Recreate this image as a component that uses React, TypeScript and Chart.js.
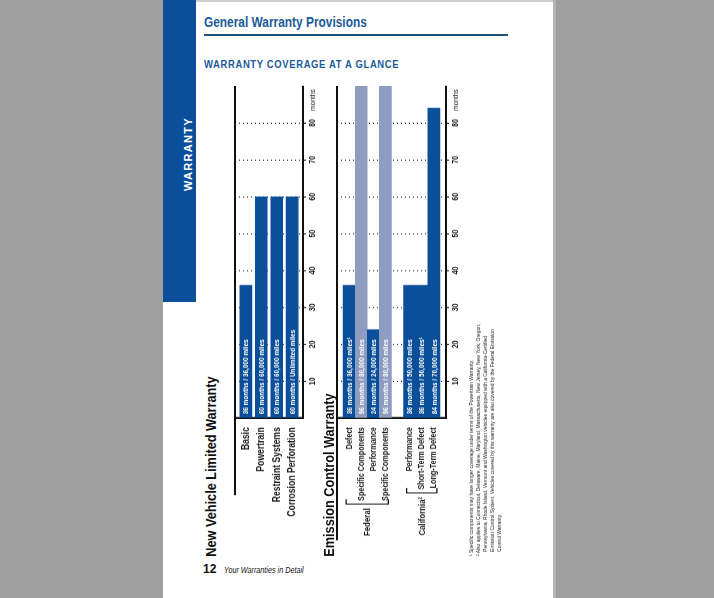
import React, { useEffect, useRef } from "react";
import { Chart, registerables } from "chart.js";

Chart.register(...registerables);

// Liberation Sans, compressed horizontally by the figure transform to imitate the condensed face
const SANS = "'Liberation Sans', Arial, sans-serif";
const SQUEEZE = 0.82;

const DARK_BLUE = "#0b4f9b";
const LIGHT_BLUE = "#8e9cc2";
const PAGE_BLUE = "#1c5a99";

const MAX_MONTHS = 90;
const MONTH_TICKS = [10, 20, 30, 40, 50, 60, 70, 80];

const nvCategories = ["Basic", "Powertrain", "Restraint Systems", "Corrosion Perforation"];
const nvMonths = [36, 60, 60, 60];
const nvTexts = [
  "36 months / 36,000 miles",
  "60 months / 60,000 miles",
  "60 months / 60,000 miles",
  "60 months / Unlimited miles",
];
const nvKinds = ["base", "base", "base", "base"];

const ecCategories = [
  "Defect",
  "Specific Components",
  "Performance",
  "Specific Components",
  "",
  "Performance",
  "Short-Term Defect",
  "Long-Term Defect",
];
const ecMonths = [36, 96, 24, 96, null, 36, 36, 84];
const ecTexts = [
  "36 months / 36,000 miles\u00B9",
  "96 months / 80,000 miles",
  "24 months / 24,000 miles",
  "96 months / 80,000 miles",
  "",
  "36 months / 50,000 miles",
  "36 months / 50,000 miles\u00B9",
  "84 months / 70,000 miles",
];
const ecKinds = ["base", "specific", "base", "specific", "", "base", "base", "base"];
const ecGroups = [
  { label: "Federal", from: 0, to: 3 },
  { label: "California\u00B2", from: 5, to: 7 },
];

const footnotes = [
  "\u00B9 Specific components may have longer coverage under terms of the Powertrain Warranty.",
  "\u00B2 Also applies to Connecticut, Delaware, Maine, Maryland, Massachusetts, New Jersey, New York, Oregon,",
  "Pennsylvania, Rhode Island, Vermont and Washington vehicles equipped with a California-Certified",
  "Emission Control System. Vehicles covered by this warranty are also covered by the Federal Emission",
  "Control Warranty.",
];

const LABEL_PAD = 11;

const decorPlugin = {
  id: "pageDecor",
  afterDatasetsDraw(chart: any, _args: any, opts: any) {
    const ctx = chart.ctx;
    const meta = chart.getDatasetMeta(0);
    ctx.save();
    ctx.font = `bold 7.8px ${SANS}`;
    ctx.fillStyle = "#ffffff";
    ctx.textAlign = "left";
    ctx.textBaseline = "middle";
    meta.data.forEach((el: any, i: number) => {
      const t = opts.texts[i];
      if (!t) return;
      const p = el.getProps(["y", "base"], true);
      ctx.fillText(t, p.base + 4, p.y + 0.5);
    });
    ctx.restore();
  },
  afterDraw(chart: any, _args: any, opts: any) {
    const ctx = chart.ctx;
    const ca = chart.chartArea;
    ctx.save();
    // open frame line on the far side of the plot, running on into the label area
    ctx.strokeStyle = "#111";
    ctx.lineWidth = 2;
    ctx.beginPath();
    ctx.moveTo(ca.right, ca.top);
    ctx.lineTo(ca.left - opts.extend, ca.top);
    ctx.stroke();
    // unit label beside the month ticks
    const xs = chart.scales.x;
    ctx.font = `8px ${SANS}`;
    ctx.fillStyle = "#222";
    ctx.textAlign = "right";
    ctx.textBaseline = "middle";
    ctx.fillText("months", ca.right - 4, xs.top + 3 + 2 + 4.8);
    // group brackets
    const ys = chart.scales.y;
    const labels = chart.data.labels as string[];
    (opts.groups || []).forEach((g: any) => {
      ctx.font = `bold ${opts.labelFont}px ${SANS}`;
      let maxW = 0;
      for (let i = g.from; i <= g.to; i++) maxW = Math.max(maxW, ctx.measureText(labels[i]).width);
      const a = ys.getPixelForValue(g.from) - 3;
      const b = ys.getPixelForValue(g.to) + 3;
      const bx = ca.left - LABEL_PAD - maxW - 4;
      ctx.strokeStyle = "#111";
      ctx.lineWidth = 1.2;
      ctx.beginPath();
      ctx.moveTo(bx + 6, a);
      ctx.lineTo(bx, a);
      ctx.lineTo(bx, b);
      ctx.lineTo(bx + 6, b);
      ctx.stroke();
      ctx.font = `bold 9.5px ${SANS}`;
      ctx.fillStyle = "#1a1a1a";
      ctx.textAlign = "right";
      ctx.textBaseline = "middle";
      ctx.fillText(g.label, bx - 5, (a + b) / 2 + 0.5);
    });
    ctx.restore();
  },
};

function buildConfig(p: {
  categories: string[];
  months: (number | null)[];
  kinds: string[];
  texts: string[];
  pad: number;
  extend: number;
  labelFont: number;
  groups?: any[];
}): any {
  const colors = p.kinds.map((k) => (k === "specific" ? LIGHT_BLUE : DARK_BLUE));
  return {
    type: "bar",
    data: {
      labels: p.categories,
      datasets: [
        {
          data: p.months,
          backgroundColor: colors,
          borderWidth: 0,
          barThickness: 12,
        },
      ],
    },
    options: {
      indexAxis: "y",
      responsive: false,
      animation: false,
      devicePixelRatio: 1,
      layout: { padding: { left: 0, right: 20, top: 10, bottom: 0 } },
      plugins: {
        legend: { display: false },
        tooltip: { enabled: false },
        title: { display: false },
        pageDecor: { texts: p.texts, extend: p.extend, groups: p.groups, labelFont: p.labelFont },
      },
      scales: {
        x: {
          type: "linear",
          position: "bottom",
          min: 0,
          max: MAX_MONTHS,
          afterFit: (s: any) => {
            s.height = 27;
            s.paddingLeft = 0;
            s.paddingRight = 0;
          },
          ticks: {
            stepSize: 10,
            autoSkip: false,
            maxRotation: 0,
            padding: 2,
            color: "#1a1a1a",
            font: { family: SANS, size: 8.5, weight: "bold" },
            callback: (v: any) => (MONTH_TICKS.includes(v) ? String(v) : ""),
          },
          grid: {
            color: (c: any) => (c.tick && MONTH_TICKS.includes(c.tick.value) ? "#111" : "rgba(0,0,0,0)"),
            lineWidth: 1.3,
            tickLength: 3,
            tickBorderDash: [],
            drawOnChartArea: true,
          },
          border: { display: true, color: "#111", width: 2, dash: [1, 3] },
        },
        y: {
          type: "category",
          position: "left",
          offset: true,
          afterFit: (s: any) => {
            s.width = 173;
            s.paddingTop = 0;
            s.paddingBottom = 0;
          },
          afterBuildTicks: (s: any) => {
            s._startValue -= p.pad;
            s._valueRange += 2 * p.pad;
          },
          grid: { display: false, drawTicks: false },
          border: { display: true, color: "#111", width: 2.4 },
          ticks: {
            autoSkip: false,
            padding: LABEL_PAD,
            color: "#1a1a1a",
            font: { family: SANS, size: p.labelFont, weight: "bold" },
          },
        },
      },
    },
    plugins: [decorPlugin],
  };
}

function BarPanel(props: { config: () => any; width: number; height: number; left: number; top: number }) {
  const ref = useRef<HTMLCanvasElement>(null);
  useEffect(() => {
    const chart = new Chart(ref.current as HTMLCanvasElement, props.config());
    return () => chart.destroy();
  }, []);
  return (
    <canvas
      ref={ref}
      width={props.width}
      height={props.height}
      style={{ position: "absolute", left: props.left, top: props.top, width: props.width, height: props.height }}
    />
  );
}

const squeezed = (extra: React.CSSProperties): React.CSSProperties => ({
  position: "absolute",
  whiteSpace: "nowrap",
  transform: `scaleX(${SQUEEZE})`,
  transformOrigin: "0 0",
  ...extra,
});

export default function App() {
  return (
    <div style={{ position: "fixed", left: 0, top: 0, width: 714, height: 598, background: "#a0a0a0", overflow: "hidden" }}>
      {/* page */}
      <div style={{ position: "absolute", left: 163, top: 0, width: 390, height: 598, background: "#ffffff" }} />
      <div style={{ position: "absolute", left: 163, top: 0, width: 390, height: 2, background: "#cfcfcf" }} />
      <div style={{ position: "absolute", left: 553, top: 0, width: 3, height: 598, background: "#b4b4b4" }} />
      {/* side tab */}
      <div style={{ position: "absolute", left: 163, top: 0, width: 33, height: 302, background: DARK_BLUE }} />
      <div
        style={{
          position: "absolute",
          left: 182,
          top: 191,
          transform: "rotate(-90deg)",
          transformOrigin: "0 0",
          whiteSpace: "nowrap",
          color: "#ffffff",
          font: `bold 11px ${SANS}`,
          lineHeight: "12px",
          letterSpacing: "1.3px",
        }}
      >
        WARRANTY
      </div>
      {/* headings */}
      <div style={squeezed({ left: 204, top: 14, color: PAGE_BLUE, font: `bold 14.5px ${SANS}`, lineHeight: "16px" })}>
        General Warranty Provisions
      </div>
      <div style={{ position: "absolute", left: 204, top: 34, width: 304, height: 2, background: "#24507c" }} />
      <div
        style={squeezed({
          left: 204,
          top: 58,
          color: PAGE_BLUE,
          font: `bold 11.5px ${SANS}`,
          lineHeight: "13px",
          letterSpacing: "0.8px",
        })}
      >
        WARRANTY COVERAGE AT A GLANCE
      </div>
      {/* rotated, condensed figure */}
      <div
        style={{
          position: "absolute",
          left: 200,
          top: 560,
          width: 598,
          height: 340,
          transform: `rotate(-90deg) scaleX(${SQUEEZE})`,
          transformOrigin: "0 0",
        }}
      >
        <div
          style={{
            position: "absolute",
            left: 4,
            top: 2,
            whiteSpace: "nowrap",
            color: "#111",
            font: `bold 15.5px ${SANS}`,
            lineHeight: "18px",
          }}
        >
          New Vehicle Limited Warranty
        </div>
        <BarPanel
          left={0}
          top={25}
          width={598}
          height={105}
          config={() =>
            buildConfig({
              categories: nvCategories,
              months: nvMonths,
              kinds: nvKinds,
              texts: nvTexts,
              pad: 0.2,
              extend: 94,
              labelFont: 10.5,
            })
          }
        />
        <div
          style={{
            position: "absolute",
            left: 4,
            top: 120,
            whiteSpace: "nowrap",
            color: "#111",
            font: `bold 15.5px ${SANS}`,
            lineHeight: "18px",
          }}
        >
          Emission Control Warranty
        </div>
        <BarPanel
          left={0}
          top={127}
          width={598}
          height={146}
          config={() =>
            buildConfig({
              categories: ecCategories,
              months: ecMonths,
              kinds: ecKinds,
              texts: ecTexts,
              pad: 0.5,
              extend: 149,
              labelFont: 8.8,
              groups: ecGroups,
            })
          }
        />
        {footnotes.map((t, i) => (
          <div
            key={i}
            style={{
              position: "absolute",
              left: i >= 2 ? 10 : 5,
              top: 268 + i * 7,
              whiteSpace: "nowrap",
              color: "#222",
              font: `6px ${SANS}`,
              lineHeight: "7px",
            }}
          >
            {t}
          </div>
        ))}
      </div>
      {/* footer */}
      <div style={{ position: "absolute", left: 203, top: 563, whiteSpace: "nowrap", color: "#111", font: `bold 12px ${SANS}`, lineHeight: "13px" }}>
        12
      </div>
      <div style={squeezed({ left: 224, top: 565, color: "#111", font: `italic 8.8px ${SANS}`, lineHeight: "10px" })}>
        Your Warranties in Detail
      </div>
    </div>
  );
}
